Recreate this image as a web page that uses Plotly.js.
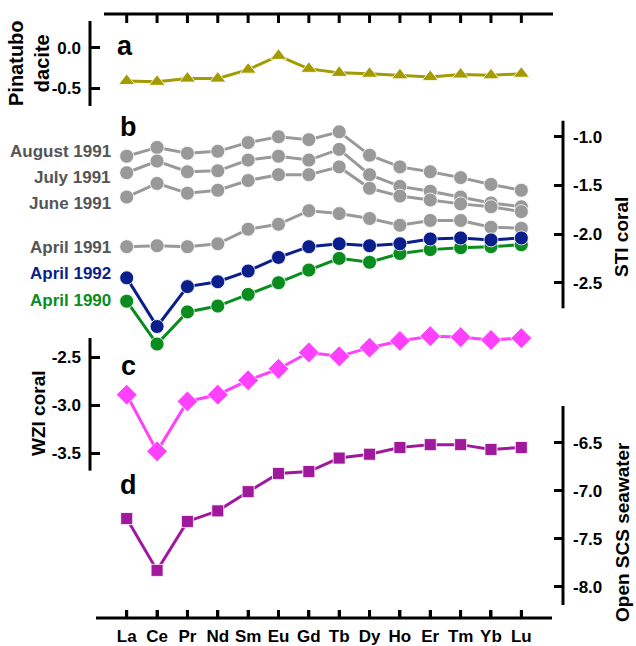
<!DOCTYPE html>
<html>
<head>
<meta charset="utf-8">
<script src="https://cdn.plot.ly/plotly-3.0.1.min.js"></script>
<style>html,body{margin:0;padding:0;background:#fff;}#chart{width:636px;height:646px;}</style>
</head>
<body>
<div id="chart"></div>
<script>
// ---- data ----
const categories = ['La','Ce','Pr','Nd','Sm','Eu','Gd','Tb','Dy','Ho','Er','Tm','Yb','Lu'];
const pinatuboDacite = [-0.41,-0.42,-0.38,-0.38,-0.27,-0.10,-0.26,-0.31,-0.32,-0.34,-0.36,-0.33,-0.34,-0.32];
const stiAugust1991 = [-1.20,-1.11,-1.17,-1.15,-1.06,-1.00,-1.03,-0.95,-1.19,-1.31,-1.36,-1.42,-1.49,-1.55];
const stiJuly1991   = [-1.37,-1.25,-1.36,-1.35,-1.24,-1.20,-1.24,-1.13,-1.39,-1.51,-1.56,-1.62,-1.68,-1.72];
const stiJune1991   = [-1.62,-1.48,-1.58,-1.55,-1.45,-1.39,-1.39,-1.31,-1.53,-1.61,-1.65,-1.69,-1.72,-1.77];
const stiApril1991  = [-2.13,-2.12,-2.13,-2.10,-1.95,-1.90,-1.76,-1.79,-1.84,-1.91,-1.86,-1.86,-1.93,-1.94];
const stiApril1992  = [-2.45,-2.95,-2.54,-2.49,-2.38,-2.24,-2.13,-2.10,-2.12,-2.10,-2.05,-2.04,-2.06,-2.04];
const stiApril1990  = [-2.69,-3.13,-2.80,-2.74,-2.62,-2.50,-2.37,-2.25,-2.29,-2.20,-2.16,-2.14,-2.13,-2.11];
const wziCoral = [-2.89,-3.48,-2.96,-2.89,-2.74,-2.62,-2.45,-2.49,-2.40,-2.33,-2.28,-2.29,-2.32,-2.30];
const openScsSeawater = [-7.29,-7.83,-7.32,-7.21,-7.01,-6.82,-6.80,-6.66,-6.62,-6.55,-6.52,-6.52,-6.57,-6.55];
const seriesLabels = ['August 1991','July 1991','June 1991','April 1991','April 1992','April 1990'];
const ticksA = [0, -0.5], tickTextA = ['0.0','-0.5'];
const ticksB = [-1.0,-1.5,-2.0,-2.5], tickTextB = ['-1.0','-1.5','-2.0','-2.5'];
const ticksC = [-2.5,-3.0,-3.5], tickTextC = ['-2.5','-3.0','-3.5'];
const ticksD = [-6.5,-7.0,-7.5,-8.0], tickTextD = ['-6.5','-7.0','-7.5','-8.0'];

// ---- styling ----
const FONT = 'Liberation Sans, Arial, Helvetica, sans-serif';
const L = 90, R = 73, T = 14, B = 28, W = 636, H = 646;
const PW = W - L - R, PH = H - T - B;
const px = x => (x - L) / PW;
const py = y => 1 - (y - T) / PH;
const idx = categories.map((_, i) => i);

const OLIVE = '#a39b00', GRAY = '#999999', BLUE = '#0b1f8c', GREEN = '#0a8c1e', MAGENTA = '#ff40ff', PURPLE = '#a0189c';

function tr(y, axis, color, symbol, size) {
  return {
    x: idx, y: y, xaxis: 'x', yaxis: axis, type: 'scatter', mode: 'lines+markers',
    line: {color: color, width: 3},
    marker: {color: color, symbol: symbol, size: size, line: {color: 'rgba(255,255,255,0.8)', width: 1}},
    hoverinfo: 'skip', showlegend: false, cliponaxis: false
  };
}

// tick marks of the top and bottom category axes, drawn on the hidden base y axis (range 0..1)
const tickX = [], tickY = [];
idx.forEach(i => {
  tickX.push(i, i, null, i, i, null);
  tickY.push(1, py(23), null, 0, py(610), null);
});

const data = [
  {x: tickX, y: tickY, xaxis: 'x', yaxis: 'y', type: 'scatter', mode: 'lines',
   line: {color: '#000', width: 3}, showlegend: false, hoverinfo: 'skip', cliponaxis: false, connectgaps: false},
  tr(pinatuboDacite, 'y2', OLIVE, 'triangle-up', 14),
  tr(stiAugust1991, 'y3', GRAY, 'circle', 14),
  tr(stiJuly1991, 'y3', GRAY, 'circle', 14),
  tr(stiJune1991, 'y3', GRAY, 'circle', 14),
  tr(stiApril1991, 'y3', GRAY, 'circle', 14),
  tr(stiApril1990, 'y3', GREEN, 'circle', 14),
  tr(stiApril1992, 'y3', BLUE, 'circle', 14),
  tr(wziCoral, 'y4', MAGENTA, 'diamond', 16),
  tr(openScsSeawater, 'y5', PURPLE, 'square', 12)
];

const tickFont = {family: FONT, size: 17, color: '#000', weight: 'bold'};
function yax(range, pos, side, tv, tt) {
  return {
    overlaying: 'y', anchor: 'free', position: pos, side: side, range: range,
    tickmode: 'array', tickvals: tv, ticktext: tt, ticks: 'inside', ticklen: 9, tickwidth: 3,
    tickcolor: '#000', tickfont: tickFont, showline: false, showgrid: false, zeroline: false,
    ticklabelstandoff: 9, fixedrange: true
  };
}

const layout = {
  width: W, height: H,
  margin: {l: L, r: R, t: T, b: B},
  paper_bgcolor: '#fff', plot_bgcolor: 'rgba(0,0,0,0)',
  showlegend: false,
  xaxis: {
    type: 'linear', range: [-0.88, 14.01], domain: [px(100), px(552)], anchor: 'y', side: 'bottom',
    tickmode: 'array', tickvals: idx, ticktext: categories,
    ticks: 'inside', ticklen: 8, tickwidth: 3, tickcolor: '#000',
    showline: false, showgrid: false, zeroline: false, fixedrange: true,
    tickfont: tickFont, ticklabelstandoff: 6
  },
  yaxis: {domain: [0, 1], range: [0, 1], visible: false, fixedrange: true},
  yaxis2: yax([-7.023, 0.415], 0, 'left', ticksA, tickTextA),
  yaxis3: yax([-5.945, 0.261], 1, 'right', ticksB, tickTextB),
  yaxis4: yax([-5.216, 1.076], 0, 'left', ticksC, tickTextC),
  yaxis5: yax([-8.326, -2.034], 1, 'right', ticksD, tickTextD),
  shapes: [
    {type: 'line', xref: 'paper', yref: 'paper', x0: px(104), x1: px(553), y0: 1, y1: 1, line: {color: '#000', width: 3}},
    {type: 'line', xref: 'paper', yref: 'paper', x0: px(96), x1: px(552), y0: 0, y1: 0, line: {color: '#000', width: 3}},
    {type: 'line', xref: 'paper', yref: 'y2', x0: 0, x1: 0, y0: 0.329, y1: -0.718, line: {color: '#000', width: 3}},
    {type: 'line', xref: 'paper', yref: 'y3', x0: 1, x1: 1, y0: -0.836, y1: -2.763, line: {color: '#000', width: 3}},
    {type: 'line', xref: 'paper', yref: 'y4', x0: 0, x1: 0, y0: -2.299, y1: -3.681, line: {color: '#000', width: 3}},
    {type: 'line', xref: 'paper', yref: 'y5', x0: 1, x1: 1, y0: -6.118, y1: -8.191, line: {color: '#000', width: 3}}
  ],
  annotations: []
};

const ann = layout.annotations;
function addText(text, x, y, opts) {
  ann.push(Object.assign({
    text: text, xref: 'paper', yref: 'paper', x: px(x), y: py(y), showarrow: false,
    xanchor: 'center', yanchor: 'middle',
    font: {family: FONT, size: 17, color: '#000', weight: 'bold'}
  }, opts || {}));
}
// panel letters
addText('a', 125, 46, {font: {family: FONT, size: 27, color: '#000', weight: 'bold'}});
addText('b', 128, 127, {font: {family: FONT, size: 27, color: '#000', weight: 'bold'}});
addText('c', 128, 366, {font: {family: FONT, size: 27, color: '#000', weight: 'bold'}});
addText('d', 128, 485, {font: {family: FONT, size: 27, color: '#000', weight: 'bold'}});
// series labels
const labelY = [152, 177, 203, 247, 273, 300];
const labelColors = ['#555555','#555555','#555555','#555555', BLUE, GREEN];
seriesLabels.forEach((s, i) => addText(s, 113, labelY[i], {xanchor: 'right', font: {family: FONT, size: 17, color: labelColors[i], weight: 'bold'}}));
// axis titles
addText('Pinatubo<br>dacite', 29, 63, {textangle: -90, font: {family: FONT, size: 20, color: '#000', weight: 'bold'}});
addText('STI coral', 622, 237, {textangle: -90, font: {family: FONT, size: 19, color: '#000', weight: 'bold'}});
addText('WZI coral', 38, 413, {textangle: -90, font: {family: FONT, size: 19, color: '#000', weight: 'bold'}});
addText('Open SCS seawater', 622, 532, {textangle: -90, font: {family: FONT, size: 19, color: '#000', weight: 'bold'}});

Plotly.newPlot('chart', data, layout, {staticPlot: true, displayModeBar: false});
</script>
</body>
</html>
